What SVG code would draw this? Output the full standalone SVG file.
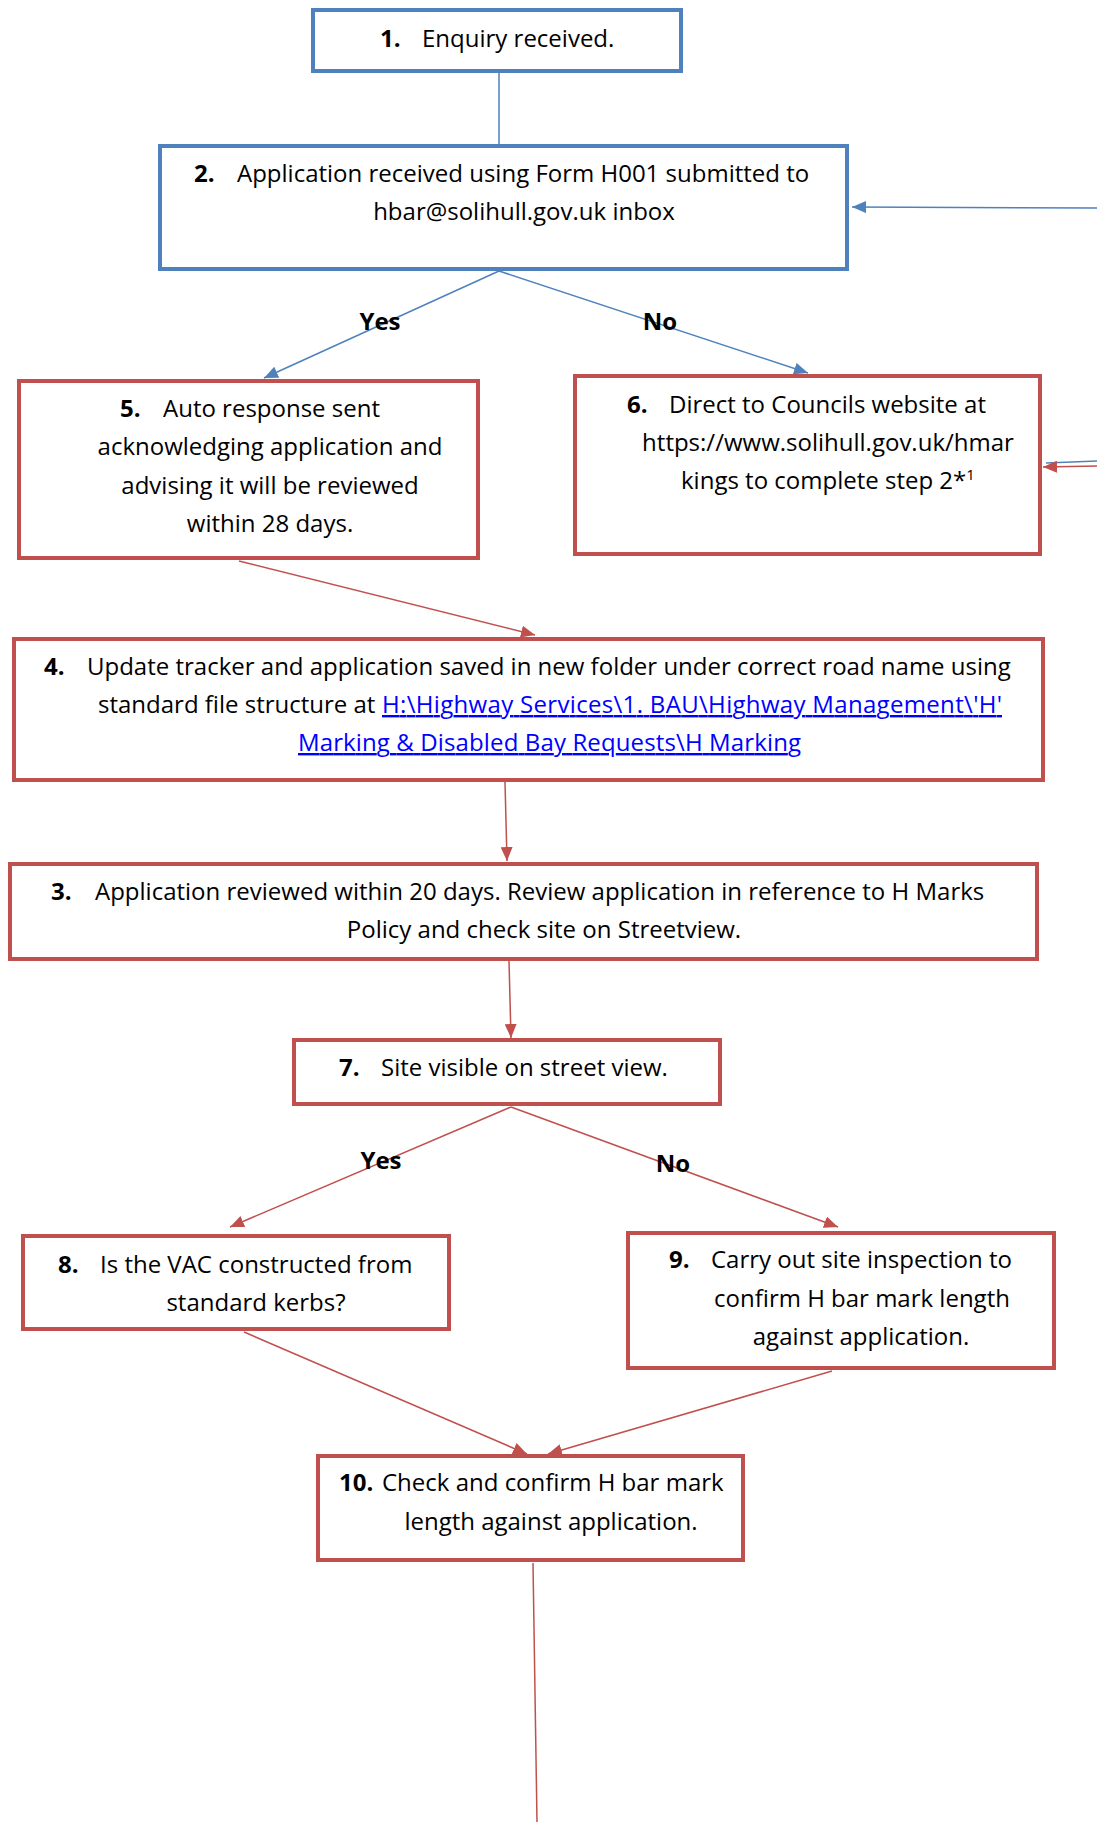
<svg xmlns="http://www.w3.org/2000/svg" width="1097" height="1822" viewBox="0 0 1097 1822">
<style>
  .bg{fill:#ffffff}
  .nb{fill:#ffffff;stroke:#4F81BD;stroke-width:4}
  .nr{fill:#ffffff;stroke:#C0504D;stroke-width:4}
  .cb{stroke:#4F81BD;stroke-width:1.5;fill:none}
  .cr{stroke:#C0504D;stroke-width:1.5;fill:none}
  text{font-family:"Open Sans","Liberation Sans",sans-serif;font-size:24px;fill:#000000}
  .num{font-weight:bold}
  .lbl{font-weight:bold;text-anchor:middle}
  .mid{text-anchor:middle}
  .link{fill:#0000FF;text-decoration:underline}
</style>
<defs>
  <marker id="ab" markerUnits="userSpaceOnUse" markerWidth="14" markerHeight="12" refX="14" refY="6" orient="auto">
    <path d="M0,0 L14,6 L0,12 z" fill="#4F81BD"/>
  </marker>
  <marker id="ar" markerUnits="userSpaceOnUse" markerWidth="14" markerHeight="12" refX="14" refY="6" orient="auto">
    <path d="M0,0 L14,6 L0,12 z" fill="#C0504D"/>
  </marker>
</defs>
<rect class="bg" x="0" y="0" width="1097" height="1822"/>

<g id="connectors">
  <line class="cb" x1="499" y1="73" x2="499" y2="144"/>
  <line class="cb" x1="1097" y1="208" x2="852" y2="207" marker-end="url(#ab)"/>
  <line class="cb" x1="499" y1="271" x2="264" y2="378" marker-end="url(#ab)"/>
  <line class="cb" x1="499" y1="271" x2="808" y2="373" marker-end="url(#ab)"/>
  <line class="cb" x1="1097" y1="461" x2="1046" y2="463"/>
  <line class="cr" x1="1097" y1="466" x2="1043" y2="467" marker-end="url(#ar)"/>
  <line class="cr" x1="239" y1="561" x2="535" y2="635" marker-end="url(#ar)"/>
  <line class="cr" x1="505" y1="782" x2="507" y2="861" marker-end="url(#ar)"/>
  <line class="cr" x1="509" y1="961" x2="511" y2="1038" marker-end="url(#ar)"/>
  <line class="cr" x1="511" y1="1107" x2="230" y2="1227" marker-end="url(#ar)"/>
  <line class="cr" x1="511" y1="1107" x2="838" y2="1227" marker-end="url(#ar)"/>
  <line class="cr" x1="244" y1="1332" x2="527" y2="1454" marker-end="url(#ar)"/>
  <line class="cr" x1="832" y1="1371" x2="548" y2="1454" marker-end="url(#ar)"/>
  <line class="cr" x1="533" y1="1563" x2="537" y2="1822"/>
  <text class="lbl" x="380" y="330">Yes</text>
  <text class="lbl" x="660" y="330">No</text>
  <text class="lbl" x="381" y="1169">Yes</text>
  <text class="lbl" x="673" y="1172">No</text>
</g>

<g id="node1">
  <rect class="nb" x="313" y="10" width="368" height="61"/>
  <text class="num" x="380" y="47">1.</text>
  <text x="422" y="47">Enquiry received.</text>
</g>

<g id="node2">
  <rect class="nb" x="160" y="146" width="687" height="123"/>
  <text class="num" x="194" y="182">2.</text>
  <text x="237" y="182">Application received using Form H001 submitted to</text>
  <text class="mid" x="524" y="220">hbar@solihull.gov.uk inbox</text>
</g>

<g id="node5">
  <rect class="nr" x="19" y="381" width="459" height="177"/>
  <text class="num" x="120" y="417">5.</text>
  <text x="163" y="417">Auto response sent</text>
  <text class="mid" x="270" y="455">acknowledging application and</text>
  <text class="mid" x="270" y="494">advising it will be reviewed</text>
  <text class="mid" x="270" y="532">within 28 days.</text>
</g>

<g id="node6">
  <rect class="nr" x="575" y="376" width="465" height="178"/>
  <text class="num" x="627" y="413">6.</text>
  <text x="669" y="413">Direct to Councils website at</text>
  <text class="mid" x="828" y="451">https://www.solihull.gov.uk/hmar</text>
  <text x="681" y="489">kings to complete step 2*<tspan font-size="15" dy="-9">1</tspan></text>
</g>

<g id="node4">
  <rect class="nr" x="14" y="639" width="1029" height="141"/>
  <text class="num" x="44" y="675">4.</text>
  <text x="87" y="675">Update tracker and application saved in new folder under correct road name using</text>
  <text x="98" y="713">standard file structure at</text>
  <text class="link" x="382" y="713" textLength="620" lengthAdjust="spacing">H:\Highway Services\1. BAU\Highway Management\'H'</text>
  <text class="link" x="298" y="751" textLength="503" lengthAdjust="spacing">Marking &amp; Disabled Bay Requests\H Marking</text>
</g>

<g id="node3">
  <rect class="nr" x="10" y="864" width="1027" height="95"/>
  <text class="num" x="51" y="900">3.</text>
  <text x="95" y="900">Application reviewed within 20 days. Review application in reference to H Marks</text>
  <text class="mid" x="544" y="938">Policy and check site on Streetview.</text>
</g>

<g id="node7">
  <rect class="nr" x="294" y="1040" width="426" height="64"/>
  <text class="num" x="339" y="1076">7.</text>
  <text x="381" y="1076">Site visible on street view.</text>
</g>

<g id="node8">
  <rect class="nr" x="23" y="1236" width="426" height="93"/>
  <text class="num" x="58" y="1273">8.</text>
  <text x="100" y="1273">Is the VAC constructed from</text>
  <text class="mid" x="256" y="1311">standard kerbs?</text>
</g>

<g id="node9">
  <rect class="nr" x="628" y="1233" width="426" height="135"/>
  <text class="num" x="669" y="1268">9.</text>
  <text x="711" y="1268">Carry out site inspection to</text>
  <text class="mid" x="862" y="1307">confirm H bar mark length</text>
  <text class="mid" x="861" y="1345">against application.</text>
</g>

<g id="node10">
  <rect class="nr" x="318" y="1456" width="425" height="104"/>
  <text class="num" x="339" y="1491">10.</text>
  <text x="382" y="1491">Check and confirm H bar mark</text>
  <text class="mid" x="551" y="1530">length against application.</text>
</g>
</svg>
